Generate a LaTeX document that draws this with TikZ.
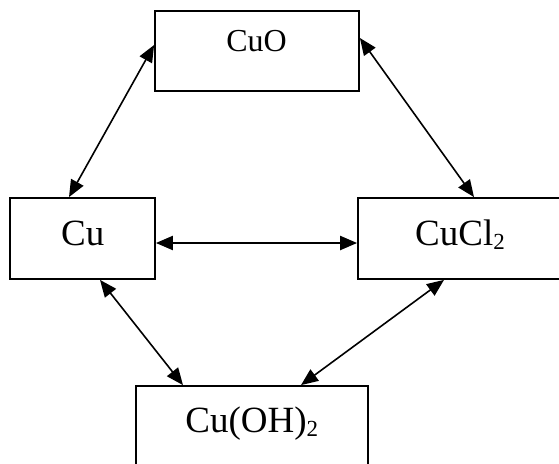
\documentclass[tikz,border=0pt]{standalone}
\usepackage{fontspec}
\setmainfont{Liberation Serif}
\usetikzlibrary{arrows.meta}
\newcommand\chemsub[1]{\raisebox{-4.5pt}{\fontsize{23}{23}\selectfont #1}}
\begin{document}
\begin{tikzpicture}[x=1pt,y=-1pt,
  box/.style={draw, line width=1.8pt, rectangle, inner sep=0pt},
  lbl/.style={anchor=base, inner sep=0pt, font=\fontsize{37}{40}\selectfont},
  link/.style={line width=1.6pt, {Triangle[length=17pt,width=14pt]}-{Triangle[length=17pt,width=14pt]}},
]
\clip (0,0) rectangle (559,463);
\fill[white] (0,0) rectangle (559,463);
% boxes
\node[box, minimum width=204pt, minimum height=80pt] (cuo) at (257,51) {};
\node[box, minimum width=145pt, minimum height=81pt] (cu) at (82.5,238.5) {};
\node[box, minimum width=212pt, minimum height=81pt] (cucl) at (464,238.5) {};
\node[box, minimum width=232pt, minimum height=94pt] (cuoh) at (252,433) {};
% labels
\node[lbl, font=\fontsize{32}{35}\selectfont] (tcuo) at (256.5,51.7) {CuO};
\node[lbl] (tcu) at (82.8,245) {Cu};
\node[lbl] (tcucl) at (460,245) {CuCl\chemsub{2}};
\node[lbl] (tcuoh) at (251.7,432.3) {Cu(OH)\chemsub{2}};
% connectors
\draw[link] ([yshift=6pt]cuo.west) -- ([xshift=-13.5pt]cu.north);
\draw[link] ([yshift=13pt]cuo.east) -- ([xshift=10pt]cucl.north);
\draw[link, line width=2.2pt] ([yshift=-4.5pt]cu.east) -- ([yshift=-4.5pt]cucl.west);
\draw[link] ([xshift=17.5pt]cu.south) -- ([xshift=-69pt]cuoh.north);
\draw[link] ([xshift=-20pt]cucl.south) -- ([xshift=49pt]cuoh.north);
\end{tikzpicture}
\end{document}
